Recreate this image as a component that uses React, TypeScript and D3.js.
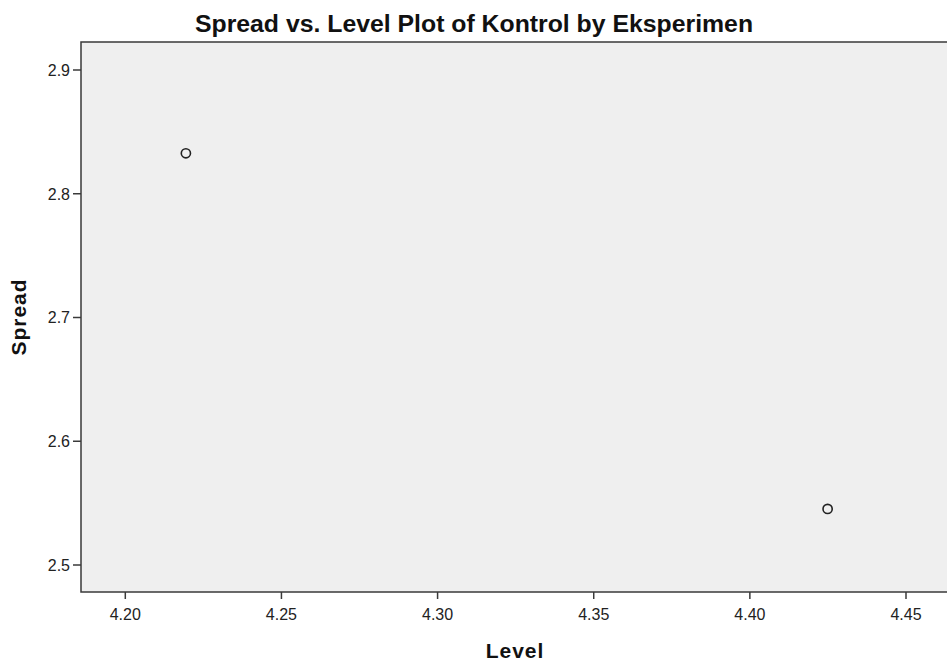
import React from "react";
import * as d3 from "d3";

// groups: Kontrol by Eksperimen -> (level, spread)
const levels = [4.2194, 4.4249];
const spreads = [2.8327, 2.5453];
const xTicks = [4.2, 4.25, 4.3, 4.35, 4.4, 4.45];
const yTicks = [2.5, 2.6, 2.7, 2.8, 2.9];

const W = 947;
const H = 665;
const left = 81,
	top = 42,
	bottom = 592,
	right = 960; // frame runs off the right edge

const font = "'Liberation Sans', Arial, sans-serif";

export default function App() {
	const x = d3.scaleLinear().domain([4.2, 4.45]).range([125.3, 906]);
	const y = d3.scaleLinear().domain([2.5, 2.9]).range([565, 70]);

	const pts = levels.map((l, i) => ({ l, s: spreads[i] }));

	return (
		<svg
			width={W}
			height={H}
			style={{ position: "absolute", left: 0, top: 0, background: "#fff" }}
			fontFamily={font}
		>
			<rect
				x={left}
				y={top}
				width={right - left}
				height={bottom - top}
				fill="#efefef"
				stroke="#3a3a3a"
				strokeWidth={1.5}
			/>
			{yTicks.map((t) => (
				<g key={"y" + t}>
					<line
						x1={left - 8}
						x2={left}
						y1={y(t)}
						y2={y(t)}
						stroke="#3a3a3a"
						strokeWidth={1.5}
					/>
					<text
						x={left - 11}
						y={y(t)}
						dy="0.36em"
						textAnchor="end"
						fontSize={16}
						fill="#222"
					>
						{d3.format(".1f")(t)}
					</text>
				</g>
			))}
			{xTicks.map((t) => (
				<g key={"x" + t}>
					<line
						x1={x(t)}
						x2={x(t)}
						y1={bottom}
						y2={bottom + 7}
						stroke="#3a3a3a"
						strokeWidth={1.5}
					/>
					<text
						x={x(t)}
						y={620}
						textAnchor="middle"
						fontSize={16}
						fill="#222"
					>
						{d3.format(".2f")(t)}
					</text>
				</g>
			))}
			{pts.map((p, i) => (
				<circle
					key={i}
					cx={x(p.l)}
					cy={y(p.s)}
					r={4.6}
					fill="none"
					stroke="#222"
					strokeWidth={1.6}
				/>
			))}
			<text
				x={474}
				y={32}
				textAnchor="middle"
				fontSize={24.8}
				fontWeight="bold"
				fill="#111"
			>
				Spread vs. Level Plot of Kontrol by Eksperimen
			</text>
			<text
				x={515}
				y={658}
				textAnchor="middle"
				fontSize={21}
				fontWeight="bold"
				letterSpacing={1}
				fill="#111"
			>
				Level
			</text>
			<text
				transform={`translate(26,${(top + bottom) / 2}) rotate(-90)`}
				textAnchor="middle"
				fontSize={21}
				fontWeight="bold"
				letterSpacing={1}
				fill="#111"
			>
				Spread
			</text>
		</svg>
	);
}
